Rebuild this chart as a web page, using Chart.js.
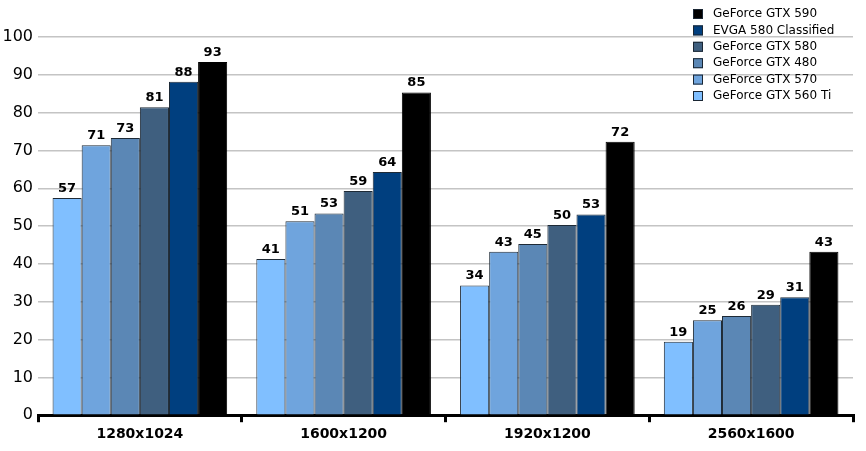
<!DOCTYPE html>
<html>
<head>
<meta charset="utf-8">
<script src="https://cdn.jsdelivr.net/npm/chart.js@4"></script>
<style>
  body { margin: 0; background: #fff; }
  #chart { display: block; }
</style>
</head>
<body>
<canvas id="chart" width="866" height="451"></canvas>
<script>
const resolutions = ['1280x1024', '1600x1200', '1920x1200', '2560x1600'];
const cards = ['GeForce GTX 560 Ti', 'GeForce GTX 570', 'GeForce GTX 480', 'GeForce GTX 580', 'EVGA 580 Classified', 'GeForce GTX 590'];
const gtx560ti = [57.4, 41.3, 34.3, 19.4];
const gtx570 = [71.4, 51.3, 43.2, 25.1];
const gtx480 = [73.3, 53.3, 45.3, 26.2];
const gtx580 = [81.4, 59.3, 50.3, 29.2];
const evga580 = [88.2, 64.3, 53.1, 31.2];
const gtx590 = [93.4, 85.3, 72.3, 43.2];
const yTicks = [0, 10, 20, 30, 40, 50, 60, 70, 80, 90, 100];

const colors = ['#80bfff', '#6fa4dd', '#5b87b5', '#3f5f7f', '#003f7f', '#000000'];
const seriesValues = [gtx560ti, gtx570, gtx480, gtx580, evga580, gtx590];

// value labels on top of each bar
const barLabels = {
  id: 'barLabels',
  afterDatasetsDraw(chart) {
    const ctx = chart.ctx;
    ctx.save();
    ctx.font = 'bold 13px "DejaVu Sans"';
    ctx.fillStyle = '#000';
    ctx.textAlign = 'center';
    ctx.textBaseline = 'bottom';
    chart.data.datasets.forEach((ds, i) => {
      chart.getDatasetMeta(i).data.forEach((bar, j) => {
        ctx.fillText(Math.round(ds.data[j]), bar.x, bar.y - 3);
      });
    });
    ctx.restore();
  }
};

// legend drawn over the top right corner, last series first
const cornerLegend = {
  id: 'cornerLegend',
  afterDraw(chart) {
    const ctx = chart.ctx;
    ctx.save();
    ctx.font = '12px "DejaVu Sans"';
    ctx.textBaseline = 'middle';
    const list = chart.data.datasets.slice().reverse();
    list.forEach((ds, k) => {
      const y = 14 + k * 16.4;
      ctx.fillStyle = ds.backgroundColor;
      ctx.fillRect(693, y - 5, 10, 10);
      ctx.strokeStyle = '#1a2633';
      ctx.lineWidth = 1;
      ctx.strokeRect(693.5, y - 4.5, 9, 9);
      ctx.fillStyle = '#000';
      ctx.fillText(ds.label, 713, y);
    });
    ctx.restore();
  }
};

new Chart(document.getElementById('chart'), {
  type: 'bar',
  data: {
    labels: resolutions,
    datasets: cards.map((name, i) => ({
      label: name,
      data: seriesValues[i],
      backgroundColor: colors[i],
      borderColor: i === 5 ? '#000' : '#1e2a36',
      borderWidth: 1,
      borderSkipped: 'start',
      categoryPercentage: 0.857,
      barPercentage: 1.0
    }))
  },
  options: {
    responsive: false,
    animation: false,
    devicePixelRatio: 1,
    layout: { padding: { top: 37, right: 13, left: 0, bottom: 4 } },
    plugins: {
      legend: { display: false },
      tooltip: { enabled: false }
    },
    scales: {
      x: {
        border: { display: true, color: '#000', width: 3 },
        grid: {
          offset: true,
          drawOnChartArea: false,
          drawTicks: true,
          tickLength: 7,
          color: '#000',
          lineWidth: 3
        },
        ticks: {
          color: '#000',
          font: { family: 'DejaVu Sans', size: 14, weight: 'bold' },
          padding: 4
        }
      },
      y: {
        min: 0,
        max: 100,
        afterBuildTicks(scale) {
          scale.ticks = yTicks.map(v => ({ value: v }));
        },
        afterFit(scale) {
          scale.width = 38;
        },
        border: { display: false },
        grid: {
          color: '#c4c4c4',
          lineWidth: 1.5,
          drawTicks: false
        },
        ticks: {
          color: '#000',
          font: { family: 'DejaVu Sans', size: 16 },
          padding: 5
        }
      }
    }
  },
  plugins: [barLabels, cornerLegend]
});
</script>
</body>
</html>
